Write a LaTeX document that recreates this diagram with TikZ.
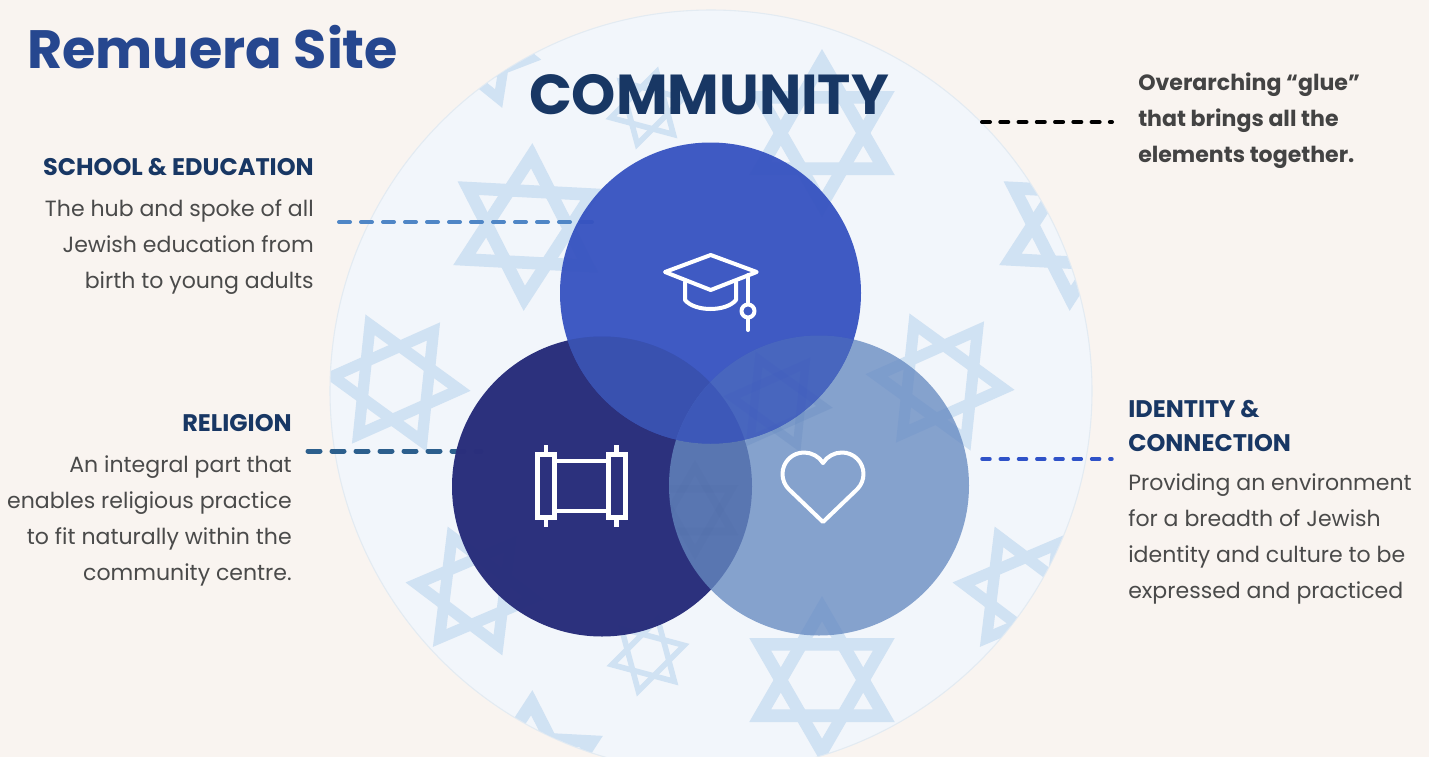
\documentclass[tikz,border=0pt]{standalone}
\usepackage{fontspec}
\setmainfont{Poppins}
\usetikzlibrary{calc}
\definecolor{pagebg}{HTML}{F9F4F0}
\definecolor{bigfill}{HTML}{F2F6FB}
\definecolor{bigedge}{HTML}{E3EBF2}
\definecolor{starc}{HTML}{D0E2F3}
\definecolor{navyt}{HTML}{183764}
\definecolor{titleb}{HTML}{26478F}
\definecolor{bodyg}{HTML}{4A4A4A}
\definecolor{topc}{HTML}{3652C0}
\definecolor{leftc}{HTML}{2A2F7C}
\definecolor{rightc}{HTML}{668AC1}
\definecolor{ovTR}{HTML}{4A68BE}
\definecolor{ovTL}{HTML}{3A52AE}
\definecolor{ovAll}{HTML}{3D58B8}
\definecolor{dashA}{HTML}{4F86C6}
\definecolor{dashB}{HTML}{2C5F8D}
\definecolor{dashC}{HTML}{2F52C8}
\tikzset{
  x=0.75pt,y=-0.75pt,
  sitetitle/.style={inner sep=0pt,font=\fontsize{40.5}{48}\selectfont\bfseries},
  commtitle/.style={inner sep=0pt,font=\fontsize{42.2}{50}\selectfont\bfseries},
  headtext/.style={inner sep=0pt,text=navyt,font=\fontsize{18}{25.5}\selectfont\bfseries},
  bodytext/.style={inner sep=0pt,text=bodyg,font=\fontsize{16.53}{27}\selectfont},
  gluetext/.style={inner sep=0pt,text=bodyg!90!black,font=\fontsize{16.55}{27}\selectfont\bfseries},
  leader/.style={line cap=round},
  iconline/.style={draw=white,line width=3pt,line join=round,line cap=round},
  scrollline/.style={draw=white,line width=3.6pt,line join=miter},
  starcol/.style={fill=starc},
}
\newcommand\starD[5]{%
  \begin{scope}[shift={(#1,#2)}]
    \pgfmathsetmacro\sa{-90-(#4)}
    \pgfmathsetmacro\sb{\sa+120}
    \pgfmathsetmacro\sc{\sa+240}
    \pgfmathsetmacro\sd{\sa+60}
    \pgfmathsetmacro\se{\sa+180}
    \pgfmathsetmacro\sf{\sa+300}
    \pgfmathsetmacro\ri{#3*#5}
    \fill[starcol,even odd rule] (\sa:#3)--(\sb:#3)--(\sc:#3)--cycle (\sa:\ri)--(\sb:\ri)--(\sc:\ri)--cycle;
    \fill[starcol,even odd rule] (\sd:#3)--(\se:#3)--(\sf:#3)--cycle (\sd:\ri)--(\se:\ri)--(\sf:\ri)--cycle;
  \end{scope}}
\newcommand\topcirc{(710.5,293) circle [radius=150.5]}
\newcommand\leftcirc{(602,486.5) circle [radius=150]}
\newcommand\rightcirc{(819,485.5) circle [radius=150]}
\begin{document}
\begin{tikzpicture}
\useasboundingbox (0,0) rectangle (1429,757);
\fill[pagebg] (0,0) rectangle (1429,757);
% large community disc
\fill[bigfill] (711,391) circle [radius=381];
\draw[bigedge,line width=0.8pt] (711,391) circle [radius=381];
\begin{scope}
  \clip (711,391) circle [radius=380.5];
  \starD{480}{50}{62}{21}{0.68}
  \starD{647}{108}{43}{-15}{0.74}
  \starD{528}{227}{84}{-3}{0.70}
  \starD{822}{133}{84}{0}{0.70}
  \starD{1074}{227}{84}{-3}{0.70}
  \starD{396}{383}{75}{24}{0.70}
  \starD{940}{382}{75}{24}{0.70}
  \starD{475}{591}{70}{23}{0.68}
  \starD{1022}{591}{70}{23}{0.68}
  \starD{648}{655}{43}{-15}{0.74}
  \starD{822}{680}{84}{0}{0.70}
  \starD{528}{774}{84}{-3}{0.70}
\end{scope}
% leader ends
\coordinate (schoolA) at (339,222);
\coordinate (schoolB) at (597,222);
\coordinate (relA) at (308,451);
\coordinate (relB) at (481,451);
\coordinate (glueA) at (982,122);
\coordinate (glueB) at (1112,122);
\coordinate (idA) at (982,459);
\coordinate (idB) at (1112,459);
\draw[leader,dashA,line width=3pt,dash pattern=on 8.25pt off 8.25pt] (schoolA) -- (schoolB);
\draw[leader,dashB,line width=3.75pt,dash pattern=on 9pt off 9pt] (relA) -- (relB);
% circles
\fill[leftc,fill opacity=0.99] \leftcirc;
\fill[rightc,fill opacity=0.775] \rightcirc;
% faint stars seen through the circles
\begin{scope}
  \clip \rightcirc;
  \tikzset{starcol/.style={fill=rightc,fill opacity=0.30}}
  \starD{778}{402}{55}{24}{0.70}
\end{scope}
\begin{scope}
  \clip \leftcirc;
  \clip \rightcirc;
  \tikzset{starcol/.style={fill=leftc,fill opacity=0.025}}
  \starD{695}{510}{50}{0}{0.70}
\end{scope}
\fill[topc,fill opacity=0.95] \topcirc;
\begin{scope}
  \clip \topcirc;
  \fill[ovTL,fill opacity=0.9] \leftcirc;
  \fill[ovTR,fill opacity=0.9] \rightcirc;
  \clip \leftcirc;
  \fill[ovAll] \rightcirc;
\end{scope}
\begin{scope}
  \clip \topcirc;
  \clip \rightcirc;
  \tikzset{starcol/.style={fill=topc,fill opacity=0.10}}
  \starD{778}{402}{55}{24}{0.70}
\end{scope}
\draw[leader,black,line width=3pt,dash pattern=on 6pt off 7.7pt] (glueA) -- (glueB);
\draw[leader,dashC,line width=2.6pt,dash pattern=on 6pt off 7.7pt] (idA) -- (idB);
% graduation cap
\draw[iconline] (710.7,255) -- (665,272) -- (710.7,290) -- (756.7,272) -- cycle;
\draw[iconline] (685,282) -- (685,300) .. controls (695,312) and (726,312) .. (736,300) -- (736,282);
\draw[iconline] (748,275) -- (748,304);
\draw[iconline] (748,311) circle [radius=6.5];
\draw[iconline] (748,318) -- (748,330);
% scroll
\draw[scrollline] (537.5,454.5) rectangle (554.5,517.5);
\draw[scrollline] (608.5,454.5) rectangle (625.5,517.5);
\draw[scrollline] (554.5,461) -- (608.5,461);
\draw[scrollline] (554.5,511) -- (608.5,511);
\draw[scrollline] (546,445) -- (546,454);
\draw[scrollline] (546,518) -- (546,527);
\draw[scrollline] (616.5,445) -- (616.5,454);
\draw[scrollline] (616.5,518) -- (616.5,527);
% heart
\draw[iconline] (823,522) -- (788.8,489.2)
  .. controls (784.8,485.2) and (782.5,479.7) .. (782.5,474)
  .. controls (782.5,462.1) and (792.1,452.5) .. (804,452.5)
  .. controls (811.5,452.5) and (819.2,456.5) .. (823,463)
  .. controls (826.8,456.5) and (834.5,452.5) .. (842,452.5)
  .. controls (853.9,452.5) and (863.5,462.1) .. (863.5,474)
  .. controls (863.5,479.7) and (861.2,485.2) .. (857.2,489.2)
  -- cycle;
% texts
\node[sitetitle,text=titleb,anchor=base west] (site) at (27,68) {Remuera Site};
\node[commtitle,text=navyt,anchor=base] (community) at (709,114) {COMMUNITY};
\node[gluetext,anchor=north west,align=left] (glue) at (1138,73) {Overarching “glue”\\that brings all the\\elements together.};
\node[headtext,anchor=base east] (schoolh) at (314,175) {SCHOOL \& EDUCATION};
\node[bodytext,anchor=north east,align=right] (schoolb) at (314,199.5) {The hub and spoke of all\\Jewish education from\\birth to young adults};
\node[headtext,anchor=base east] (relh) at (292,431) {RELIGION};
\node[bodytext,anchor=north east,align=right] (relb) at (292,455.5) {An integral part that\\enables religious practice\\to fit naturally within the\\community centre.};
\node[headtext,anchor=north west,align=left] (idh) at (1128,400) {IDENTITY \&\\CONNECTION};
\node[bodytext,anchor=north west,align=left] (idb) at (1128,473) {Providing an environment\\for a breadth of Jewish\\identity and culture to be\\expressed and practiced};
\end{tikzpicture}
\end{document}
